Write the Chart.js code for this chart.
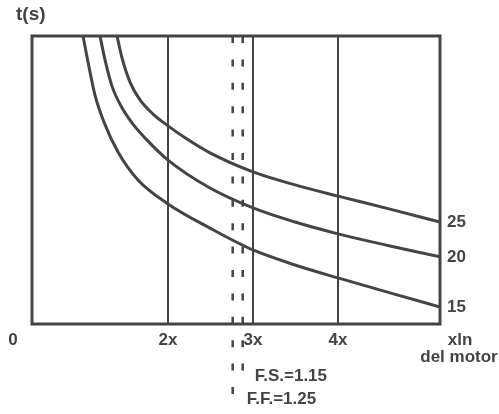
<!DOCTYPE html>
<html>
<head>
<meta charset="utf-8">
<script src="https://cdn.jsdelivr.net/npm/chart.js@4/dist/chart.umd.min.js"></script>
<style>
html, body { margin: 0; padding: 0; background: #fff; }
</style>
</head>
<body>
<canvas id="c" width="499" height="414"></canvas>
<script>
// x in multiples of motor current (xIn), y in arbitrary time units
const xTicks = [2, 3, 4]
const xTickLabels = ['2x', '3x', '4x']

const curve15X = [1.0, 1.059, 1.141, 1.247, 1.412, 1.647, 2.0, 2.494, 3.0, 3.494, 4.0, 4.612, 5.2]
const curve15Y = [100, 91.0, 79.5, 70.1, 59.7, 50.0, 41.7, 33.3, 25.7, 20.5, 16.0, 10.8, 5.9]
const curve20X = [1.2, 1.259, 1.341, 1.447, 1.588, 1.765, 2.0, 2.494, 3.0, 3.494, 4.0, 4.612, 5.2]
const curve20Y = [100, 91.7, 82.6, 75.7, 69.4, 63.5, 56.9, 47.2, 40.3, 35.4, 31.3, 27.1, 23.3]
const curve25X = [1.4, 1.459, 1.553, 1.671, 1.824, 2.0, 2.224, 2.494, 3.0, 3.494, 4.0, 4.612, 5.2]
const curve25Y = [100, 92.4, 84.0, 77.8, 72.9, 68.8, 64.2, 59.4, 52.8, 48.3, 44.4, 39.9, 35.4]
const curveLabels = ['15', '20', '25']

// dashed form factor / service factor lines
const markerX = [2.761, 2.879]
const markerBottom = [-25.3, -16.3]
const markerLabels = ['F.F.=1.25', 'F.S.=1.15']

const ink = '#444'
const font = 'Arial, "Liberation Sans", Helvetica, sans-serif'

const pts = (xs, ys) => xs.map((x, i) => ({ x, y: ys[i] }))

const curve = (xs, ys, label) => ({
    label,
    data: pts(xs, ys),
    borderColor: ink,
    borderWidth: 3,
    pointRadius: 0,
    cubicInterpolationMode: 'monotone',
    fill: false
})

const marker = (i) => ({
    label: markerLabels[i],
    data: [{ x: markerX[i], y: 100 }, { x: markerX[i], y: markerBottom[i] }],
    borderColor: ink,
    borderWidth: 2.5,
    borderDash: [7, 16.4],
    pointRadius: 0,
    clip: false
})

const frame = {
    id: 'frame',
    afterDraw(chart) {
        const { ctx, chartArea: a, scales: { x } } = chart
        ctx.save()
        ctx.strokeStyle = ink
        ctx.lineWidth = 3
        ctx.strokeRect(a.left, a.top, a.right - a.left, a.bottom - a.top)

        ctx.fillStyle = ink
        ctx.font = 'bold 17px ' + font
        ctx.textBaseline = 'middle'

        // curve end labels
        ctx.textAlign = 'left'
        for (let i = 0; i < 3; i++) {
            const pt = chart.getDatasetMeta(i).data.at(-1)
            ctx.fillText(curveLabels[i], a.right + 7, pt.y)
        }

        // axis corner texts
        ctx.font = 'bold 19px ' + font
        ctx.fillText('t(s)', 16, 15)
        ctx.font = 'bold 17px ' + font
        ctx.textAlign = 'center'
        ctx.fillText('0', 13, a.bottom + 16)
        ctx.fillText('xln', a.right + 20, a.bottom + 16)
        ctx.fillText('del motor', a.right + 19, a.bottom + 33)

        // marker labels
        ctx.textAlign = 'left'
        ctx.fillText(markerLabels[1], x.getPixelForValue(markerX[1]) + 12, a.bottom + 52)
        ctx.fillText(markerLabels[0], x.getPixelForValue(markerX[0]) + 14, a.bottom + 75)
        ctx.restore()
    }
}

new Chart(document.getElementById('c'), {
    type: 'line',
    data: {
        datasets: [
            curve(curve15X, curve15Y, curveLabels[0]),
            curve(curve20X, curve20Y, curveLabels[1]),
            curve(curve25X, curve25Y, curveLabels[2]),
            marker(0),
            marker(1)
        ]
    },
    options: {
        responsive: false,
        animation: false,
        layout: { padding: { left: 32, top: 36, right: 59, bottom: 66 } },
        plugins: { legend: { display: false }, tooltip: { enabled: false } },
        scales: {
            x: {
                type: 'linear',
                min: 0.4,
                max: 5.2,
                afterBuildTicks: s => { s.ticks = xTicks.map(v => ({ value: v })) },
                afterFit: s => { s.height = 24 },
                grid: { color: ink, lineWidth: 2, drawTicks: false },
                border: { display: false },
                ticks: {
                    padding: 6,
                    color: ink,
                    font: { family: font, size: 17, weight: 'bold' },
                    maxRotation: 0,
                    callback: v => xTickLabels[xTicks.indexOf(v)]
                }
            },
            y: {
                display: false,
                min: 0,
                max: 100
            }
        }
    },
    plugins: [frame]
})
</script>
</body>
</html>
